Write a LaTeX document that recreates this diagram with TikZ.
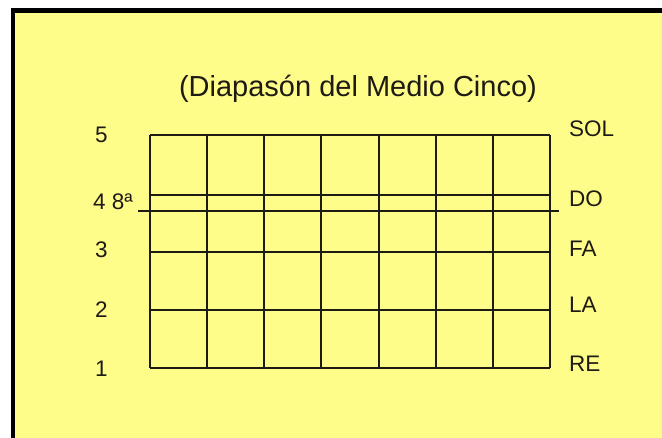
\documentclass[tikz,border=0pt]{standalone}
\usepackage{fontspec}
\setmainfont{Liberation Sans}
\definecolor{bgyellow}{RGB}{255,253,138}
\definecolor{ink}{RGB}{30,26,20}
\begin{document}
\begin{tikzpicture}[x=1pt,y=-1pt,
  lbl/.style={inner sep=0pt,anchor=base west,text=ink,font=\fontsize{22.5}{22.5}\selectfont},
  ttl/.style={inner sep=0pt,anchor=base,text=ink,font=\fontsize{29}{29}\selectfont},
  gridline/.style={draw=ink,line width=2pt}]
\useasboundingbox (0,0) rectangle (662,438);
\fill[white] (0,0) rectangle (662,438);
\fill[bgyellow] (13,10.5) rectangle (662,438);
\draw[black,line width=4.5pt] (13,445) -- (13,10.5) -- (670,10.5);
% title
\node[ttl] (title) at (358,97) {(Diapasón del Medio Cinco)};
% grid
\foreach \k in {0,...,7}{
  \draw[gridline] ({150+\k*400/7},135) -- ({150+\k*400/7},368);
}
\foreach \yy in {135,195,252,310,368}{
  \draw[gridline] (150,\yy) -- (550,\yy);
}
\coordinate (octL) at (138,211);
\coordinate (octR) at (559,211);
\draw[gridline] (octL) -- (octR);
% left labels
\node[lbl] (n5) at (95,143) {5};
\node[lbl] (n4) at (93,210) {4 8ª};
\node[lbl] (n3) at (95,258) {3};
\node[lbl] (n2) at (95,318) {2};
\node[lbl] (n1) at (95,377) {1};
% right labels
\node[lbl] (sol) at (569,137) {SOL};
\node[lbl] (do) at (569,207) {DO};
\node[lbl] (fa) at (569,257) {FA};
\node[lbl] (la) at (569,313) {LA};
\node[lbl] (re) at (569,372) {RE};
\end{tikzpicture}
\end{document}
